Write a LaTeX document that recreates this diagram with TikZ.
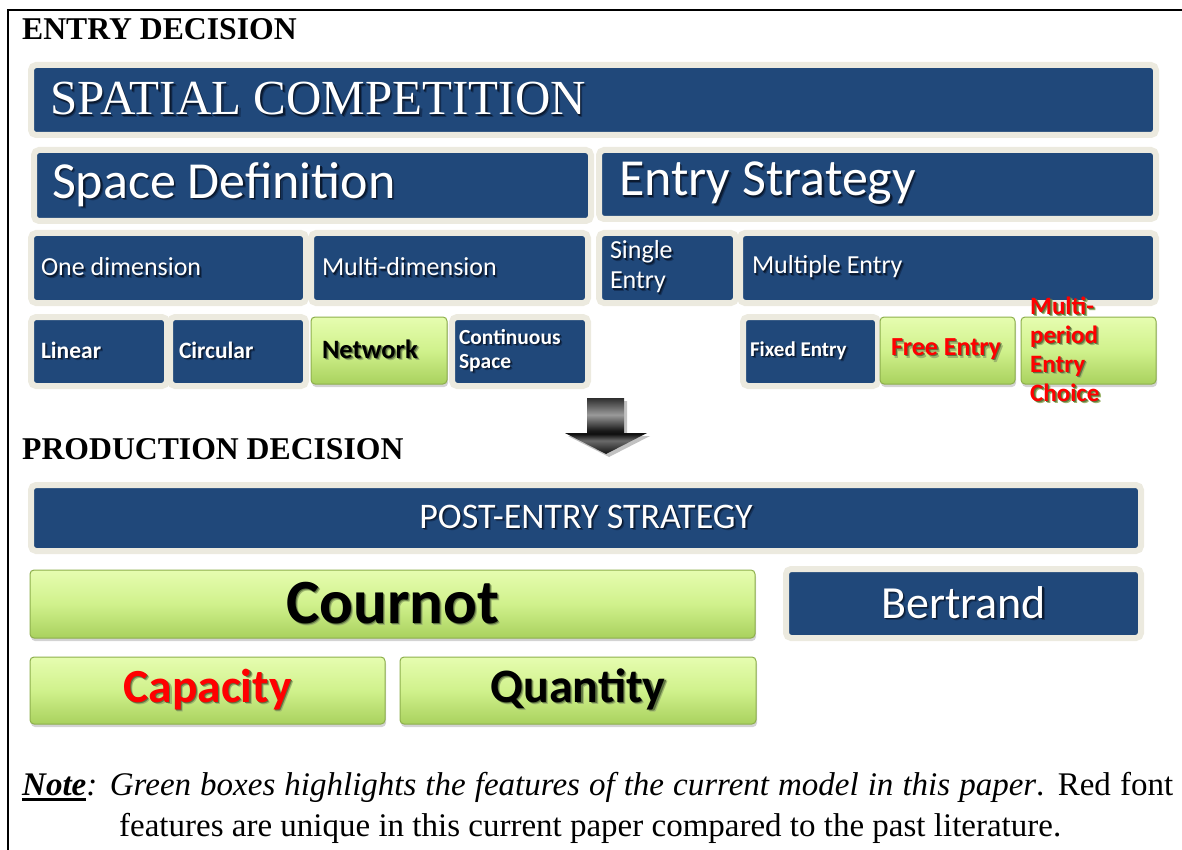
\documentclass[tikz,border=0pt]{standalone}
\usepackage{fontspec}
\setmainfont{Liberation Serif}
\newfontfamily\calib{Carlito}
\newfontfamily\titleserif{Liberation Serif}
\usetikzlibrary{shadows}

\definecolor{navy}{HTML}{20487A}
\definecolor{ring}{HTML}{ECEADF}
\definecolor{nshA}{HTML}{0B1A30}
\definecolor{nshB}{HTML}{15325A}
\definecolor{greenT}{HTML}{E6FDB0}
\definecolor{greenM}{HTML}{D0F18C}
\definecolor{greenB}{HTML}{A9D15E}
\definecolor{greenedge}{HTML}{8DAF4C}
\definecolor{gshA}{HTML}{5E7540}
\definecolor{gshB}{HTML}{9DB56E}
\definecolor{redtext}{HTML}{FF0000}
\definecolor{arA}{HTML}{141414}
\definecolor{arB}{HTML}{6A6A6A}
\definecolor{arC}{HTML}{0E0E0E}
\definecolor{arD}{HTML}{1A1A1A}
\definecolor{arE}{HTML}{9A9A9A}
\definecolor{arF}{HTML}{2E2E2E}

% glossy fill of the down arrow (path box spans 25bp..75bp)
\pgfdeclareverticalshading{arrowgloss}{100bp}{color(0bp)=(arA); color(25bp)=(arA);
  color(37bp)=(arB); color(43bp)=(arC); color(46bp)=(arD); color(60bp)=(arE);
  color(75bp)=(arF); color(100bp)=(arF)}

% text with a soft two-step offset shadow; #1 is n (navy) or g (green)
\newcommand\shd[2]{\spaceskip=0pt\xspaceskip=0pt\relax\leavevmode
  \rlap{\kern2.4pt\raisebox{-2.4pt}{\textcolor{#1shB}{#2}}}%
  \rlap{\kern1.3pt\raisebox{-1.3pt}{\textcolor{#1shA}{#2}}}#2}
% thick underline
\newcommand\thickul[1]{\sbox0{#1}\rlap{\rule[-6pt]{\wd0}{2.6pt}}\usebox0}
% box by its corners: name, x1, y1, x2, y2, options, text
\newcommand\boxnode[7]{\node[#6, minimum width={(#4-#2)*1pt}, minimum height={(#5-#3)*1pt}]
  (#1) at ({(#2+#4)/2},{(#3+#5)/2}) {#7};}

\tikzset{
  navybox/.style={fill=navy, draw=ring, line width=6pt, rounded corners=5pt,
    text=white, inner sep=0pt},
  greenbox/.style={draw=greenedge, line width=1pt, rounded corners=4pt,
    top color=greenT, bottom color=greenB, middle color=greenM,
    drop shadow={shadow xshift=1pt, shadow yshift=-3pt, opacity=0.35},
    inner sep=0pt},
  heading/.style={anchor=base west, inner sep=0pt,
    font=\fontsize{31.7}{36}\selectfont\bfseries},
  small/.style={font=\calib\fontsize{26}{30}\selectfont, align=left},
  tiny/.style={font=\calib\bfseries\fontsize{23.5}{27}\selectfont, align=left},
}

\begin{document}
\begin{tikzpicture}[x=1pt, y=-1pt]
\useasboundingbox (0,0) rectangle (1182,850);

% frame
\draw[line width=2pt] (8,850) -- (8,10) -- (1182,10);

% ---------------- entry decision ----------------
\node[heading] (entryhead) at (22,40) {ENTRY DECISION};

\boxnode{comp}{31}{65}{1156}{135}{navybox, text width=1087pt, align=left,
  font=\titleserif\fontsize{49}{55}\selectfont}{\shd{n}{SPATIAL COMPETITION}}

\boxnode{spacedef}{34}{150}{591}{221}{navybox, text width=521pt, align=left,
  font=\calib\fontsize{52}{58}\selectfont}{\shd{n}{Space Definition}}
\boxnode{entrystrat}{599}{150}{1156}{219}{navybox, text width=517pt, align=left,
  font=\calib\fontsize{52}{58}\selectfont}{\shd{n}{Entry Strategy}}

\boxnode{onedim}{31}{233}{306}{303}{navybox, small, text width=255pt}{\shd{n}{One dimension}}
\boxnode{multidim}{311}{233}{588}{303}{navybox, small, text width=255pt}{\shd{n}{Multi-dimension}}
\boxnode{single}{599}{233}{736}{303}{navybox, small, text width=115pt}{\shd{n}{Single}\\\shd{n}{Entry}}
\boxnode{multiple}{740}{233}{1156}{303}{navybox, small, text width=392pt}{\shd{n}{Multiple Entry}}

\boxnode{linear}{31}{317}{167}{386}{navybox, tiny, text width=116pt}{\shd{n}{Linear}}
\boxnode{circular}{170}{317}{306}{386}{navybox, tiny, text width=118pt}{\shd{n}{Circular}}
\boxnode{network}{311}{317}{447}{384}{greenbox, text width=114pt, align=left,
  font=\calib\bfseries\fontsize{26.5}{30}\selectfont}{\shd{g}{Network}}
\boxnode{continuous}{452}{317}{588}{386}{navybox, text width=122pt, align=left,
  font=\calib\bfseries\fontsize{21.5}{24}\selectfont}{\shd{n}{Continuous}\\\shd{n}{Space}}

\boxnode{fixed}{743}{317}{878}{386}{navybox, text width=121pt, align=left,
  font=\calib\bfseries\fontsize{21}{24}\selectfont}{\shd{n}{Fixed Entry}}
\boxnode{free}{880}{317}{1015}{384}{greenbox, text width=113pt, align=left, text=redtext,
  font=\calib\bfseries\fontsize{26}{30}\selectfont}{\shd{g}{Free Entry}}
\boxnode{multiperiod}{1021}{317}{1156}{384}{greenbox}{}
\node[anchor=west, inner sep=0pt, align=left, text=redtext,
  font=\calib\bfseries\fontsize{25}{29}\selectfont] (multitext) at (1030,350)
  {\shd{g}{Multi-}\\\shd{g}{period}\\\shd{g}{Entry}\\\shd{g}{Choice}};

% down arrow between the two decisions
\fill[black!40, opacity=0.6] (590,401) -- (627,401) -- (627,436) -- (650,436)
  -- (609,457) -- (568,436) -- (590,436) -- cycle;
\path[shading=arrowgloss] (587,398) -- (624,398) -- (624,433) -- (647,433)
  -- (606,454) -- (565,433) -- (587,433) -- cycle;

% ---------------- production decision ----------------
\node[heading] (prodhead) at (22,459) {PRODUCTION DECISION};

\boxnode{post}{31}{485}{1141}{551}{navybox,
  font=\calib\fontsize{36}{40}\selectfont}{\shd{n}{POST-ENTRY STRATEGY}}
\boxnode{cournot}{30}{570}{755}{638}{greenbox,
  font=\calib\bfseries\fontsize{63}{70}\selectfont}{\shd{g}{Cournot}}
\boxnode{bertrand}{786}{569}{1141}{638}{navybox,
  font=\calib\fontsize{46}{50}\selectfont}{\shd{n}{Bertrand}}
\boxnode{capacity}{30}{657}{385}{724}{greenbox, text=redtext,
  font=\calib\bfseries\fontsize{47.5}{52}\selectfont}{\shd{g}{Capacity}}
\boxnode{quantity}{400}{657}{756}{724}{greenbox,
  font=\calib\bfseries\fontsize{48}{52}\selectfont}{\shd{g}{Quantity}}

% ---------------- note ----------------
\node[anchor=base west, inner sep=0pt, font=\fontsize{33}{40}\selectfont] (note1) at (22,795)
  {\makebox[1151pt][s]{\thickul{\textbf{\textit{Note}}}\textit{: Green boxes highlights the features of the current model in this paper}. Red font}};
\node[anchor=base west, inner sep=0pt, font=\fontsize{33}{40}\selectfont] (note2) at (119,836)
  {features are unique in this current paper compared to the past literature.};
\end{tikzpicture}
\end{document}
